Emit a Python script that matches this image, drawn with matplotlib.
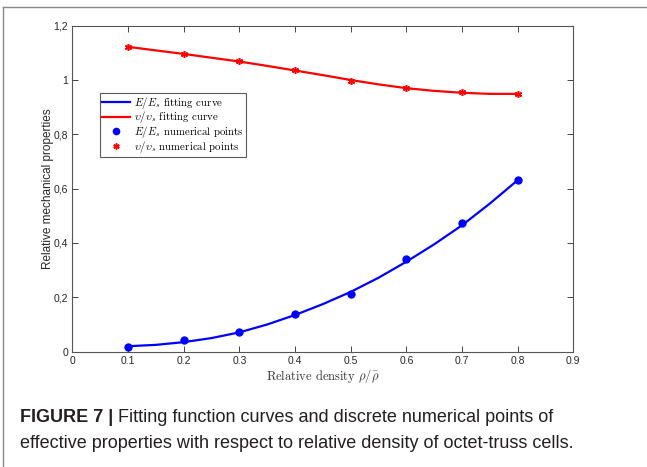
import matplotlib.pyplot as plt
from matplotlib.lines import Line2D

plt.rcParams['mathtext.fontset'] = 'cm'
plt.rcParams['axes.unicode_minus'] = False

# numerical points
rho = [0.1, 0.2, 0.3, 0.4, 0.5, 0.6, 0.7, 0.8]
E_pts = [0.017, 0.042, 0.072, 0.138, 0.211, 0.340, 0.475, 0.631]
nu_pts = [1.123, 1.096, 1.070, 1.036, 0.995, 0.972, 0.955, 0.950]

# fitting curves
rho_fit = [0.1, 0.15, 0.2, 0.25, 0.3, 0.35, 0.4, 0.45, 0.5, 0.55, 0.6, 0.65, 0.7, 0.75, 0.8]
E_fit = [0.020, 0.025, 0.035, 0.050, 0.071, 0.100, 0.135, 0.175, 0.220, 0.272, 0.331, 0.395, 0.465, 0.545, 0.631]
nu_fit = [1.122, 1.109, 1.096, 1.082, 1.068, 1.052, 1.035, 1.018, 1.000, 0.984, 0.970, 0.960, 0.953, 0.949, 0.949]

xticks = [0, 0.1, 0.2, 0.3, 0.4, 0.5, 0.6, 0.7, 0.8, 0.9]
xtick_labels = ['0', '0.1', '0.2', '0.3', '0.4', '0.5', '0.6', '0.7', '0.8', '0.9']
yticks = [0, 0.2, 0.4, 0.6, 0.8, 1.0, 1.2]
ytick_labels = ['0', '0,2', '0,4', '0,6', '0,8', '1', '1,2']

fig = plt.figure(figsize=(6.47, 4.67), dpi=100)
ax = fig.add_axes([0.112, 0.247, 0.774, 0.698])

ax.plot(rho_fit, E_fit, color='#0000ff', lw=1.6, label=r'$E/E_s$ fitting curve')
ax.plot(rho_fit, nu_fit, color='#ff0000', lw=1.6, label=r'$\upsilon/\upsilon_s$ fitting curve')
ax.plot(rho, E_pts, 'o', color='#0000ff', ms=5, label=r'$E/E_s$ numerical points')
ax.plot(rho, nu_pts, ls='none', marker=(6, 2, 0), color='#ff0000', ms=5, mew=1.1,
        label=r'$\upsilon/\upsilon_s$ numerical points')

ax.set_xlim(0, 0.9)
ax.set_ylim(0, 1.2)
ax.set_xticks(xticks)
ax.set_xticklabels(xtick_labels)
ax.set_yticks(yticks)
ax.set_yticklabels(ytick_labels)
ax.tick_params(direction='in', top=True, right=True, length=4, width=0.6,
               labelsize=7.5, colors='#262626', pad=3)
for lab in ax.get_xticklabels() + ax.get_yticklabels():
    lab.set_family('Liberation Sans')
for s in ax.spines.values():
    s.set_color('#555555')
    s.set_linewidth(0.8)

ax.set_xlabel(r'Relative density $\rho/\bar{\rho}$', family='cmr10', fontsize=9,
              color='#333333', labelpad=1)
ax.set_ylabel('Relative mechanical properties', family='Liberation Sans', fontsize=8.5,
              color='#262626', labelpad=0)

leg = ax.legend(loc='upper left', bbox_to_anchor=(0.054, 0.795), prop={'family': 'cmr10', 'size': 7.8},
                frameon=True, fancybox=False, edgecolor='#333333', borderpad=0.2,
                handlelength=2.6, handletextpad=0.4, labelspacing=-0.12, borderaxespad=0,
                markerscale=0.9)
leg.get_frame().set_linewidth(0.8)

# panel border
fig.add_artist(Line2D([3 / 647, 3 / 647], [0, 1 - 7 / 467], transform=fig.transFigure,
                      color='#888888', lw=1))
fig.add_artist(Line2D([3 / 647, 1], [1 - 7 / 467, 1 - 7 / 467], transform=fig.transFigure,
                      color='#888888', lw=1))

cap_kw = dict(family='Liberation Sans', fontsize=13, va='center', color='#231f20')
t1 = fig.text(20 / 647, 1 - 418 / 467, 'FIGURE 7 | ', weight='bold', **cap_kw)
renderer = fig.canvas.get_renderer()
bb = t1.get_window_extent(renderer)
fig.text(bb.x1 / fig.bbox.width, 1 - 418 / 467,
         'Fitting function curves and discrete numerical points of', **cap_kw)
fig.text(20 / 647, 1 - 443 / 467,
         'effective properties with respect to relative density of octet-truss cells.', **cap_kw)

fig.savefig('out.png', dpi=100)
